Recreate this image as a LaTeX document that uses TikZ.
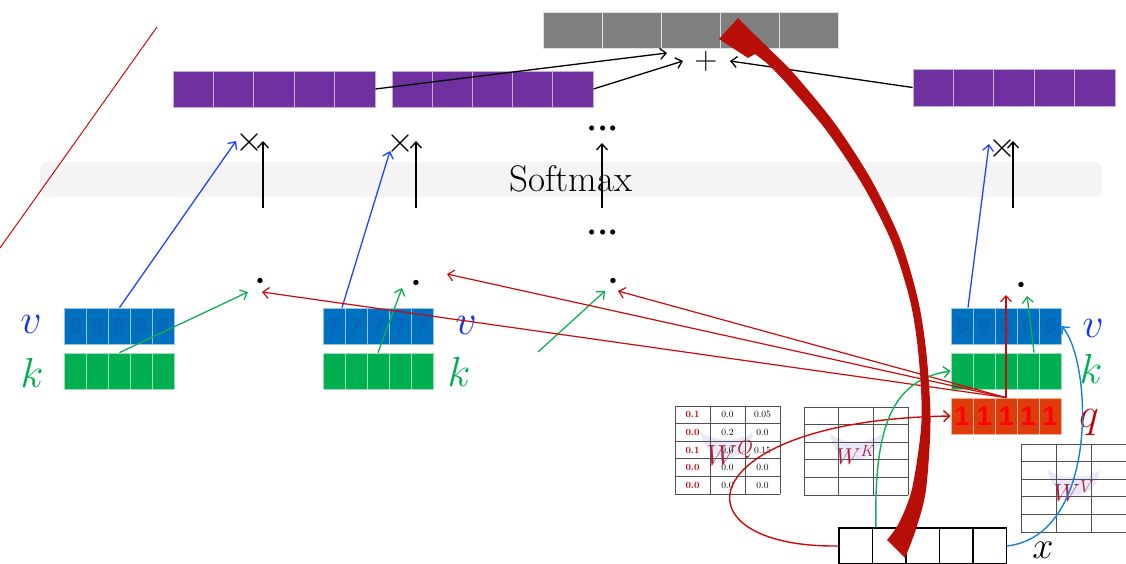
\RequirePackage{fix-cm}
\documentclass[tikz,border=0pt]{standalone}
\usepackage{fontspec}
\newfontfamily\digitfont{Liberation Sans}
\usetikzlibrary{arrows.meta}

\definecolor{vblue}{HTML}{0070C0}
\definecolor{vdigit}{HTML}{0866B6}
\definecolor{kgreen}{HTML}{00B050}
\definecolor{qfill}{HTML}{DE3C0A}
\definecolor{qdigit}{HTML}{FF0000}
\definecolor{purp}{HTML}{7030A0}
\definecolor{grayc}{HTML}{7F7F7F}
\definecolor{vlabel}{HTML}{1433F5}
\definecolor{arrblue}{HTML}{1F45FF}
\definecolor{arrgreen}{HTML}{10B050}
\definecolor{arrred}{HTML}{CC0A0A}
\definecolor{qlabel}{HTML}{C00000}
\definecolor{wlabel}{HTML}{B01E3C}
\definecolor{xblue}{HTML}{1580D8}
\definecolor{bigred}{HTML}{B80E08}
\definecolor{smbg}{HTML}{F4F4F4}
\definecolor{tabgray}{HTML}{505050}
\definecolor{bowl}{HTML}{E2E4F6}

\tikzset{
  arr/.style={-{Straight Barb[length=6pt,width=11pt]}, line width=1.3pt},
  cellbase/.style={rectangle, inner sep=0pt, line width=0.8pt},
  gcell/.style={cellbase, fill=grayc, draw=gray!25!white},
  pcell/.style={cellbase, fill=purp, draw=purp!40!white},
  vcell/.style={cellbase, fill=vblue, draw=vblue!40!white, text=vdigit,
    font={\digitfont\bfseries\fontsize{22}{24}\selectfont}},
  kcell/.style={cellbase, fill=kgreen, draw=kgreen!40!white},
  qcell/.style={cellbase, fill=qfill, draw=qfill!40!white, text=qdigit,
    font={\digitfont\bfseries\fontsize{27}{28}\selectfont}},
  xcell/.style={cellbase, fill=white, draw=black, line width=1.1pt},
  lbl/.style={inner sep=0pt, anchor=base},
  op/.style={inner sep=0pt, anchor=base},
  tabline/.style={draw=tabgray, line width=0.9pt},
  num/.style={inner sep=0pt, font=\fontsize{9.5}{10}\selectfont},
  rnum/.style={num, text=qlabel, font=\bfseries\fontsize{9.5}{10}\selectfont},
  wlbl/.style={inner sep=0pt, text=wlabel},
}

% a row of five cells named #1-1 ... #1-5
\newcommand\cellvec[7]{%
  \foreach \i in {1,...,5}
    \node[#6, minimum width=#4, minimum height=#5] (#1-\i) at ({#2+(\i-0.5)*#4},#3) {#7};
}
% a 5x3 weight grid
\newcommand\wgrid[4]{%
  \foreach \c in {0,...,3}
    \draw[tabline] ({#1+\c*#3},#2) -- ({#1+\c*#3},{#2+5*#4});
  \foreach \r in {0,...,5}
    \draw[tabline] (#1,{#2+\r*#4}) -- ({#1+3*#3},{#2+\r*#4});
}
% faint surface plot behind a weight label
\newcommand\bowlshape[2]{%
  \fill[bowl, opacity=0.8] ({#1-26},{#2-14}) .. controls ({#1-22},{#2+20}) and ({#1+22},{#2+20}) .. ({#1+26},{#2-14})
     .. controls ({#1+12},{#2-4}) and ({#1-12},{#2-4}) .. cycle;
}
% three big centred dots
\newcommand\bigdots{$\mathord{\cdot}\mkern-1mu\mathord{\cdot}\mkern-1mu\mathord{\cdot}$}

\begin{document}
\begin{tikzpicture}[x=1pt,y=-1pt]
\useasboundingbox (0,0) rectangle (1126,564);

% softmax band
\fill[smbg, rounded corners=7pt] (40,162) rectangle (1102,197);
\node[lbl, font=\fontsize{37}{42}\selectfont] (softmax) at (571,192) {Softmax};

% thin diagonal stroke
\coordinate (diagA) at (157,27);
\coordinate (diagB) at (0,248);
\draw[arrred, line width=1pt] (diagA) -- (diagB);

% vectors
\cellvec{out}{543}{30}{59}{36}{gcell}{}
\cellvec{pL}{173}{89}{40.4}{36}{pcell}{}
\cellvec{pM}{392}{89}{40.2}{36}{pcell}{}
\cellvec{pR}{913}{87.5}{40.4}{37}{pcell}{}
\cellvec{vL}{64.5}{326}{22}{36}{vcell}{8}
\cellvec{kL}{64.5}{371}{22}{36}{kcell}{}
\cellvec{vM}{323}{326}{22}{36}{vcell}{7}
\cellvec{kM}{323}{371}{22}{36}{kcell}{}
\cellvec{vR}{951}{326}{22}{36}{vcell}{6}
\cellvec{kR}{951}{371}{22}{36}{kcell}{}
\cellvec{q}{951}{416}{22}{36}{qcell}{1}
\cellvec{x}{839}{546}{33.5}{36}{xcell}{}

% vector labels
\node[lbl, text=vlabel, font=\fontsize{42}{42}\selectfont] (vLlab) at (31,333) {$v$};
\node[lbl, text=kgreen, font=\fontsize{42}{42}\selectfont] (kLlab) at (32,387) {$k$};
\node[lbl, text=vlabel, font=\fontsize{42}{42}\selectfont] (vMlab) at (466,334) {$v$};
\node[lbl, text=kgreen, font=\fontsize{42}{42}\selectfont] (kMlab) at (459,386) {$k$};
\node[lbl, text=vlabel, font=\fontsize{42}{42}\selectfont] (vRlab) at (1093,337) {$v$};
\node[lbl, text=kgreen, font=\fontsize{42}{42}\selectfont] (kRlab) at (1091,383) {$k$};
\node[lbl, text=qlabel, font=\fontsize{42}{42}\selectfont] (qlab) at (1089,427) {$q$};
\node[lbl, font=\fontsize{38}{38}\selectfont] (xlab) at (1043,558) {$x$};

% operators (placed on the math axis)
\node[op, font=\fontsize{36}{36}\selectfont] (mulL) at (249,152) {$\times$};
\node[op, font=\fontsize{36}{36}\selectfont] (mulM) at (400,153) {$\times$};
\node[op, font=\fontsize{36}{36}\selectfont] (mulR) at (1002,158) {$\times$};
\node[op, font=\fontsize{32}{32}\selectfont] (plus) at (706,70) {$+$};
\node[op, font=\fontsize{48}{48}\selectfont] (dotsTop) at (603,141) {\bigdots};
\node[op, font=\fontsize{48}{48}\selectfont] (dotsMid) at (603,244) {\bigdots};
\node[op, font=\fontsize{50}{50}\selectfont] (dotL) at (260,293.5) {$\cdot$};
\node[op, font=\fontsize{50}{50}\selectfont] (dotM) at (416,295.5) {$\cdot$};
\node[op, font=\fontsize{50}{50}\selectfont] (dotT) at (613,293.5) {$\cdot$};
\node[op, font=\fontsize{50}{50}\selectfont] (dotR) at (1021,297.5) {$\cdot$};

% arrow end points
\coordinate (upLs) at (263,208); \coordinate (upLe) at (263,141);
\coordinate (upMs) at (416,208); \coordinate (upMe) at (416,141);
\coordinate (upTs) at (602,208); \coordinate (upTe) at (602,143);
\coordinate (upRs) at (1013,208); \coordinate (upRe) at (1013,141);
\coordinate (sumA) at (667,53);
\coordinate (sumB) at (683,61);
\coordinate (sumC) at (730,61);
\coordinate (bL) at (236,141);
\coordinate (bM) at (390,151);
\coordinate (bR) at (989,144);
\coordinate (gL) at (248,292);
\coordinate (gM) at (402,288);
\coordinate (gS) at (538,352);
\coordinate (gT) at (605,291);
\coordinate (gR) at (1027,296);
\coordinate (rL) at (262,292);
\coordinate (rM) at (447,274);
\coordinate (rT) at (618,291);
\coordinate (rU) at (1006,295);

% softmax outputs
\draw[arr] (upLs) -- (upLe);
\draw[arr] (upMs) -- (upMe);
\draw[arr] (upTs) -- (upTe);
\draw[arr] (upRs) -- (upRe);

% weighted values summed
\draw[arr] (pL-5.east) -- (sumA);
\draw[arr] (pM-5.east) -- (sumB);
\draw[arr] (pR-1.west) -- (sumC);

% values to products
\draw[arr, arrblue] (vL-3.north) -- (bL);
\draw[arr, arrblue] ([xshift=8pt]vM-1.north) -- (bM);
\draw[arr, arrblue] ([xshift=6pt]vR-1.north) -- (bR);

% keys to dot products
\draw[arr, arrgreen] (kL-3.north) -- (gL);
\draw[arr, arrgreen] (kM-3.north) -- (gM);
\draw[arr, arrgreen] (gS) -- (gT);
\draw[arr, arrgreen] ([xshift=6pt]kR-4.north) -- (gR);

% query to dot products
\draw[arr, arrred, line width=1.2pt] (q-3.north) -- (rL);
\draw[arr, arrred, line width=1.2pt] (q-3.north) -- (rM);
\draw[arr, arrred, line width=1.2pt] (q-3.north) -- (rT);
\draw[arr, arrred, line width=1.2pt] (q-3.north) -- (rU);

% weight matrices
\bowlshape{727}{446}
\bowlshape{856}{448}
\bowlshape{1074}{484}
\wgrid{675}{406}{35}{17.6}
\wgrid{804}{407}{34.7}{17.6}
\wgrid{1021}{444}{35.3}{17.6}
\foreach \r/\va/\vb/\vc in {1/0.1/0.0/0.05, 2/0.0/0.2/0.0, 3/0.1/0.0/0.15, 4/0.0/0.0/0.0, 5/0.0/0.0/0.0} {
  \node[rnum] (wq-\r-1) at (692.5,{406+17.6*(\r-0.5)}) {\va};
  \node[num] (wq-\r-2) at (727.5,{406+17.6*(\r-0.5)}) {\vb};
  \node[num] (wq-\r-3) at (762.5,{406+17.6*(\r-0.5)}) {\vc};
}
\node[wlbl, font=\fontsize{29}{29}\selectfont] (wqlab) at (730,453) {$W^Q$};
\node[wlbl, font=\fontsize{23}{23}\selectfont] (wklab) at (856,455) {$W^K$};
\node[wlbl, font=\fontsize{25}{25}\selectfont] (wvlab) at (1074,491) {$W^V$};

% projections of x
\draw[arr, arrred, line width=1.4pt] (x-1.west) .. controls (670,548) and (690,420) .. (q-1.west);
\draw[arr, arrgreen, line width=1.4pt] ([xshift=4pt]x-2.north west) .. controls (874,430) and (890,380) .. (kR-1.west);
\draw[arr, xblue, line width=1.4pt] (x-5.east) .. controls (1100,535) and (1092,360) .. (vR-5.east);

% residual connection: tapered arrow from x up to the output
\fill[bigred] plot[smooth] coordinates {(905,558) (915.8,529.6) (925.9,490.5) (930.5,421) (926.5,354.2) (917.9,299.2) (899.9,238.85) (871.1,179.5) (835,123.7) (795,74.8) (774.4,53.9) (756,36) (738,18)}
  -- (719,39) -- (748,58) -- (755,54)
  -- plot[smooth] coordinates {(765.8,62.3) (786,82.8) (826.2,130.3) (862.5,184.7) (891.7,242.35) (910.1,300.8) (918.5,355) (921.5,421) (912.3,487.5) (899.2,522.6) (887,540)}
  -- cycle;
\end{tikzpicture}
\end{document}
